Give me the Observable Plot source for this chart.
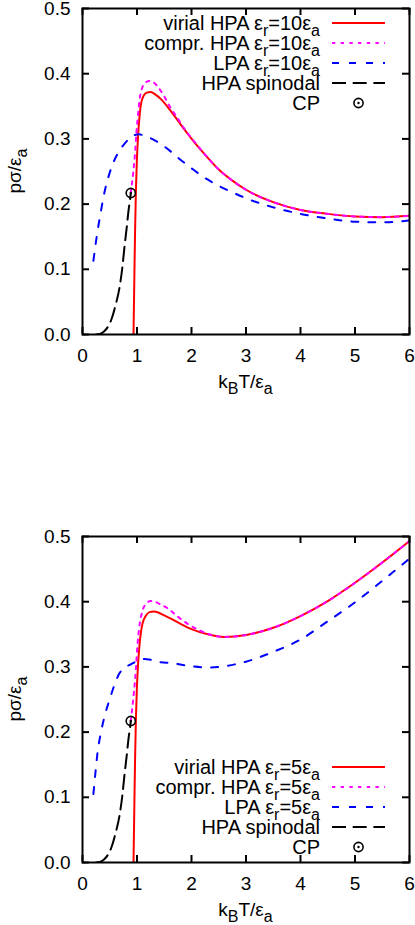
<!DOCTYPE html>
<html>
<head>
<meta charset="utf-8">
<script src="https://cdn.jsdelivr.net/npm/d3@7"></script>
<script src="https://cdn.jsdelivr.net/npm/@observablehq/plot@0.6"></script>
<style>
  html, body { margin: 0; padding: 0; background: #fff; }
  #chart { width: 415px; }
  svg { display: block; }
</style>
</head>
<body>
<div id="chart"></div>
<script>
// ---------- data ----------
const xTicks = [0, 1, 2, 3, 4, 5, 6];
const yTicks = [0, 0.1, 0.2, 0.3, 0.4, 0.5];

// panel 1: eps_r = 10 eps_a   ([kT/eps_a, p sigma/eps_a])
const virial10 = [[0.936,0],[0.95,0.08],[0.965,0.16],[0.98,0.22],[0.997,0.266],[1.02,0.305],[1.045,0.333],[1.07,0.352],[1.12,0.366],[1.18,0.371],[1.25,0.372],[1.34,0.368],[1.44,0.361],[1.6,0.345],[1.75,0.328],[1.9,0.311],[2.05,0.295],[2.3,0.271],[2.5,0.253],[2.75,0.236],[3.0,0.222],[3.5,0.203],[4.0,0.191],[4.5,0.185],[5.0,0.181],[5.5,0.180],[6.0,0.182]];
const compr10 = [[0.886,0.217],[0.93,0.248],[0.96,0.274],[0.99,0.31],[1.02,0.338],[1.05,0.362],[1.09,0.377],[1.15,0.386],[1.23,0.389],[1.3,0.387],[1.4,0.378],[1.5,0.365],[1.6,0.35],[1.75,0.331],[1.9,0.312],[2.05,0.296],[2.3,0.271],[2.5,0.253],[2.75,0.236],[3.0,0.222],[3.5,0.203],[4.0,0.191],[4.5,0.185],[5.0,0.181],[5.5,0.180],[6.0,0.182]];
const lpa10 = [[0.2,0.113],[0.24,0.138],[0.275,0.158],[0.34,0.19],[0.4,0.217],[0.47,0.24],[0.53,0.256],[0.65,0.278],[0.776,0.293],[0.88,0.302],[0.96,0.306],[1.04,0.307],[1.15,0.304],[1.25,0.301],[1.44,0.292],[1.6,0.282],[1.74,0.272],[2.0,0.255],[2.25,0.24],[2.5,0.228],[2.75,0.218],[3.0,0.209],[3.5,0.195],[4.0,0.185],[4.5,0.178],[5.0,0.173],[5.5,0.172],[6.0,0.175]];

// panel 2: eps_r = 5 eps_a
const virial5 = [[0.936,0],[0.95,0.08],[0.965,0.16],[0.98,0.22],[0.997,0.266],[1.02,0.305],[1.04,0.328],[1.07,0.352],[1.1,0.366],[1.16,0.378],[1.23,0.384],[1.31,0.385],[1.4,0.383],[1.5,0.379],[1.62,0.374],[1.8,0.366],[2.0,0.358],[2.3,0.350],[2.6,0.346],[3.0,0.349],[3.5,0.360],[4.0,0.378],[4.5,0.401],[5.0,0.429],[5.5,0.460],[6.0,0.493]];
const compr5 = [[0.886,0.217],[0.93,0.25],[0.96,0.276],[0.98,0.298],[1.01,0.335],[1.04,0.36],[1.1,0.386],[1.17,0.397],[1.25,0.401],[1.33,0.4],[1.45,0.395],[1.56,0.39],[1.75,0.377],[1.93,0.366],[2.1,0.358],[2.29,0.351],[2.6,0.346],[3.0,0.349],[3.5,0.360],[4.0,0.378],[4.5,0.401],[5.0,0.429],[5.5,0.460],[6.0,0.493]];
const lpa5 = [[0.2,0.105],[0.24,0.14],[0.275,0.168],[0.34,0.2],[0.41,0.226],[0.49,0.248],[0.58,0.271],[0.67,0.289],[0.78,0.299],[0.886,0.304],[1.0,0.309],[1.13,0.312],[1.25,0.311],[1.44,0.307],[1.62,0.306],[1.99,0.301],[2.32,0.299],[2.6,0.301],[3.0,0.308],[3.5,0.323],[4.0,0.342],[4.5,0.370],[5.0,0.399],[5.5,0.432],[6.0,0.466]];

// shared: HPA spinodal and critical point
const spinodal = [[0.25,0],[0.32,0.001],[0.4,0.005],[0.46,0.011],[0.53,0.023],[0.6,0.043],[0.685,0.075],[0.73,0.102],[0.77,0.134],[0.81,0.163],[0.84,0.187],[0.865,0.203],[0.886,0.216]];
const criticalPoint = [[0.886,0.217]];

const legend10 = [["virial HPA ε","r","=10ε","a"],["compr. HPA ε","r","=10ε","a"],["LPA ε","r","=10ε","a"],["HPA spinodal"],["CP"]];
const legend5  = [["virial HPA ε","r","=5ε","a"],["compr. HPA ε","r","=5ε","a"],["LPA ε","r","=5ε","a"],["HPA spinodal"],["CP"]];

// ---------- drawing ----------
const FONT = "'Liberation Sans', Arial, Helvetica, sans-serif";
const FS = 19, LFS = 20, SUB = 16, SUBDY = 5.5;
const W = 415, ML = 82, MR = 6;
const styles = [
  {stroke: "#ff0000", dash: null},
  {stroke: "#ff00ff", dash: "3.3,5.4"},
  {stroke: "#0000ff", dash: "7,10"},
  {stroke: "#000000", dash: "14,6.7"}
];

function addRich(sel, parts) {
  parts.forEach((p, i) => {
    const sub = i % 2 === 1;
    const t = sel.append("tspan").text(p);
    if (sub) t.attr("font-size", SUB).attr("dy", SUBDY);
    else if (i > 0) t.attr("dy", -SUBDY);
  });
}

function panel({virial, compr, lpa, height, marginTop, marginBottom, legend, legendY}) {
  const plotH = height - marginTop - marginBottom;
  const plotW = W - ML - MR;
  const lineOpts = (s) => ({x: d => d[0], y: d => d[1], stroke: s.stroke, strokeWidth: 2,
    strokeDasharray: s.dash, curve: "monotone-x", clip: true});
  const svg = Plot.plot({
    width: W, height, marginTop, marginBottom, marginLeft: ML, marginRight: MR,
    style: {fontFamily: FONT, fontSize: FS + "px", color: "#000", background: "#fff", overflow: "visible"},
    x: {domain: [0, 6]},
    y: {domain: [0, 0.5]},
    marks: [
      Plot.line(virial, lineOpts(styles[0])),
      Plot.line(compr, lineOpts(styles[1])),
      Plot.line(lpa, lineOpts(styles[2])),
      Plot.line(spinodal, lineOpts(styles[3])),
      Plot.dot(criticalPoint, {x: d => d[0], y: d => d[1], r: 4.6, stroke: "#000", strokeWidth: 1.6, fill: "none"}),
      Plot.dot(criticalPoint, {x: d => d[0], y: d => d[1], r: 1.2, fill: "#000"}),
      // inward ticks on all four sides
      Plot.tickX(xTicks, {x: d => d, insetTop: plotH - 7, strokeWidth: 2}),
      Plot.tickX(xTicks, {x: d => d, insetBottom: plotH - 7, strokeWidth: 2}),
      Plot.tickY(yTicks, {y: d => d, insetRight: plotW - 7, strokeWidth: 2}),
      Plot.tickY(yTicks, {y: d => d, insetLeft: plotW - 7, strokeWidth: 2}),
      Plot.frame({stroke: "#000", strokeWidth: 2}),
      Plot.axisX(xTicks, {tickSize: 0, tickPadding: 14, label: null, tickFormat: d => String(d)}),
      Plot.axisY(yTicks, {tickSize: 0, tickPadding: 12, label: null, tickFormat: d3.format(".1f")})
    ]
  });
  const s = d3.select(svg);
  const cx = ML + plotW / 2, cy = marginTop + plotH / 2;
  // axis titles
  const xl = s.append("text").attr("x", cx).attr("y", marginTop + plotH + 54)
    .attr("text-anchor", "middle").attr("font-family", FONT).attr("font-size", FS).attr("fill", "#000");
  addRich(xl, ["k", "B", "T/ε", "a"]);
  const yl = s.append("text").attr("transform", `translate(21,${cy}) rotate(-90)`)
    .attr("text-anchor", "middle").attr("font-family", FONT).attr("font-size", FS).attr("fill", "#000");
  addRich(yl, ["pσ/ε", "a"]);
  // legend
  const g = s.append("g").attr("font-family", FONT).attr("font-size", LFS);
  legend.forEach((parts, i) => {
    const y = legendY + 20 * i;
    const t = g.append("text").attr("x", 320).attr("y", y).attr("dy", "0.35em")
      .attr("text-anchor", "end").attr("fill", "#000");
    addRich(t, parts);
    if (i < 4) {
      g.append("line").attr("x1", 332).attr("x2", 385).attr("y1", y).attr("y2", y)
        .attr("stroke", styles[i].stroke).attr("stroke-width", 2)
        .attr("stroke-dasharray", styles[i].dash);
    } else {
      g.append("circle").attr("cx", 358.5).attr("cy", y).attr("r", 4.6)
        .attr("fill", "none").attr("stroke", "#000").attr("stroke-width", 1.6);
      g.append("circle").attr("cx", 358.5).attr("cy", y).attr("r", 1.2).attr("fill", "#000");
    }
  });
  return svg;
}

const root = document.getElementById("chart");
root.append(panel({virial: virial10, compr: compr10, lpa: lpa10, height: 462, marginTop: 8, marginBottom: 128, legend: legend10, legendY: 23}));
root.append(panel({virial: virial5, compr: compr5, lpa: lpa5, height: 463, marginTop: 74, marginBottom: 63, legend: legend5, legendY: 305}));
</script>
</body>
</html>
